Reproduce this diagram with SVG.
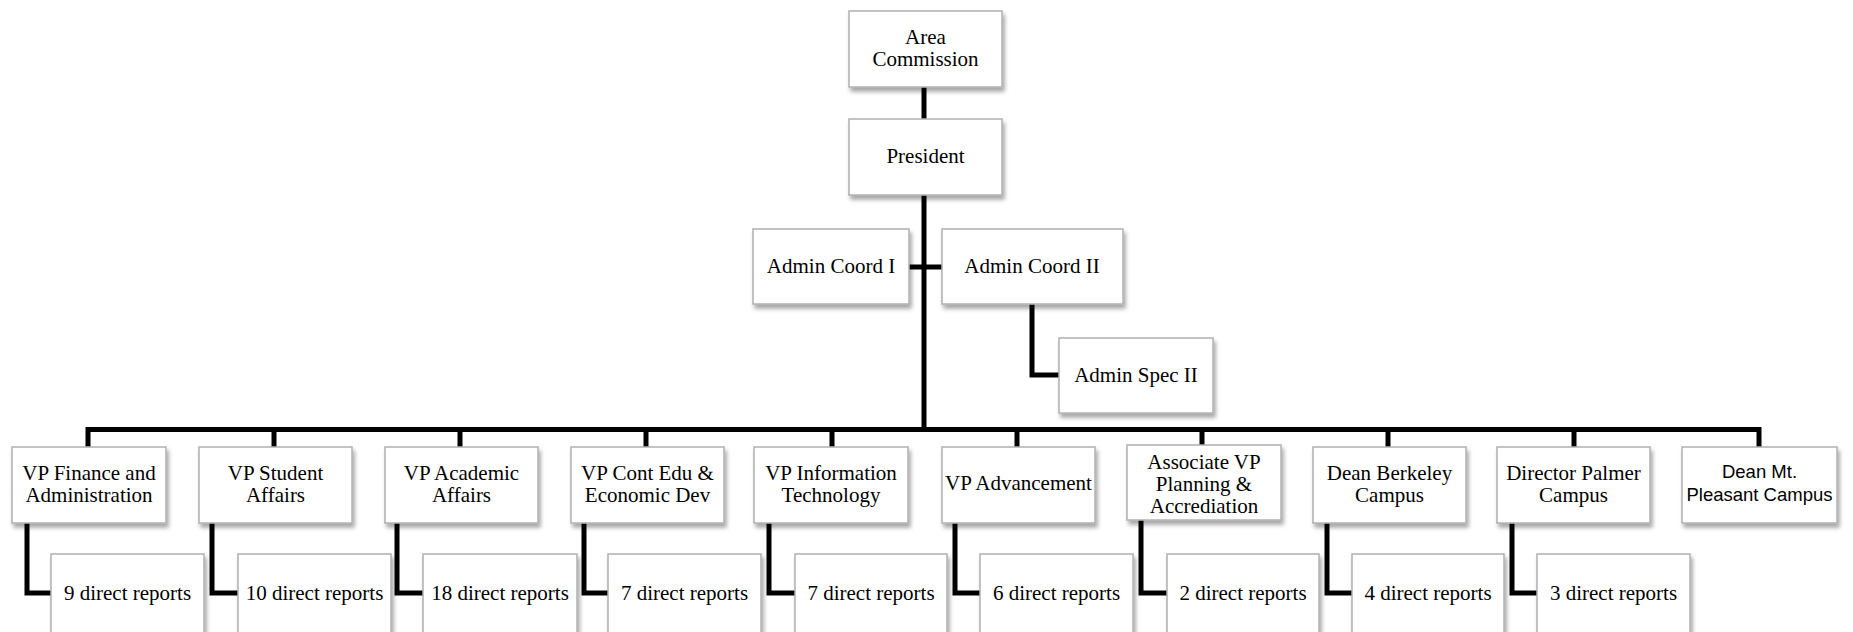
<svg xmlns="http://www.w3.org/2000/svg" width="1853" height="632" viewBox="0 0 1853 632">
<defs>
<filter id="sh" x="-10%" y="-10%" width="130%" height="140%">
<feDropShadow dx="2" dy="4" stdDeviation="2.2" flood-color="#000" flood-opacity="0.35"/>
</filter>
<style>
.b{fill:#fff;stroke:#b0b0b0;stroke-width:1.5;filter:url(#sh)}
.t{font-family:"Liberation Serif","Times New Roman",serif;font-size:21px;fill:#000;text-anchor:middle}
.s{font-family:"Liberation Sans",Arial,sans-serif;font-size:18.5px;fill:#000;text-anchor:middle}
.c{fill:none;stroke:#000;stroke-width:5;stroke-linejoin:miter}
</style>
</defs>
<rect width="1853" height="632" fill="#fff"/>
<g id="connectors">
<path class="c" d="M924 87V119"/>
<path class="c" d="M924 195V430"/>
<path class="c" d="M909 267H942"/>
<path class="c" d="M1032 304V375H1059"/>
<path class="c" d="M88 447V429.5H1759V447"/>
<path class="c" d="M274 429.5V447M460 429.5V447M646 429.5V447M832 429.5V447M1017 429.5V447M1202 429.5V445M1388 429.5V447M1574 429.5V447"/>
<path class="c" d="M27 523V593H51"/>
<path class="c" d="M212 523V593H238"/>
<path class="c" d="M397 523V593H423"/>
<path class="c" d="M584 523V593H608"/>
<path class="c" d="M769 523V593H795"/>
<path class="c" d="M955 523V593H980"/>
<path class="c" d="M1141 520V593H1167"/>
<path class="c" d="M1327 523V593H1352"/>
<path class="c" d="M1512 523V593H1537"/>
</g>
<g id="area-commission"><rect class="b" x="849" y="11" width="153" height="76"/><text class="t" x="925.5" y="44">Area</text><text class="t" x="925.5" y="66">Commission</text></g>
<g id="president"><rect class="b" x="849" y="119" width="153" height="76"/><text class="t" x="925.5" y="163">President</text></g>
<g id="admin-coord-1"><rect class="b" x="753" y="229" width="156" height="75"/><text class="t" x="831" y="273">Admin Coord I</text></g>
<g id="admin-coord-2"><rect class="b" x="942" y="229" width="181" height="75"/><text class="t" x="1032" y="273">Admin Coord II</text></g>
<g id="admin-spec-2"><rect class="b" x="1059" y="338" width="154" height="75"/><text class="t" x="1136" y="382">Admin Spec II</text></g>
<g id="vp-finance"><rect class="b" x="12" y="447" width="154" height="76"/><text class="t" x="89" y="480">VP Finance and</text><text class="t" x="89" y="502">Administration</text></g>
<g id="vp-student"><rect class="b" x="199" y="447" width="153" height="76"/><text class="t" x="275.5" y="480">VP Student</text><text class="t" x="275.5" y="502">Affairs</text></g>
<g id="vp-academic"><rect class="b" x="385" y="447" width="153" height="76"/><text class="t" x="461.5" y="480">VP Academic</text><text class="t" x="461.5" y="502">Affairs</text></g>
<g id="vp-cont-edu"><rect class="b" x="571" y="447" width="153" height="76"/><text class="t" x="647.5" y="480">VP Cont Edu &amp;</text><text class="t" x="647.5" y="502">Economic Dev</text></g>
<g id="vp-it"><rect class="b" x="754" y="447" width="154" height="76"/><text class="t" x="831" y="480">VP Information</text><text class="t" x="831" y="502">Technology</text></g>
<g id="vp-advancement"><rect class="b" x="942" y="447" width="153" height="76"/><text class="t" x="1018.5" y="490">VP Advancement</text></g>
<g id="assoc-vp"><rect class="b" x="1127" y="445" width="154" height="75"/><text class="t" x="1204" y="469">Associate VP</text><text class="t" x="1204" y="491">Planning &amp;</text><text class="t" x="1204" y="513">Accrediation</text></g>
<g id="dean-berkeley"><rect class="b" x="1313" y="447" width="153" height="76"/><text class="t" x="1389.5" y="480">Dean Berkeley</text><text class="t" x="1389.5" y="502">Campus</text></g>
<g id="director-palmer"><rect class="b" x="1497" y="447" width="153" height="76"/><text class="t" x="1573.5" y="480">Director Palmer</text><text class="t" x="1573.5" y="502">Campus</text></g>
<g id="dean-mt-pleasant"><rect class="b" x="1682" y="447" width="155" height="76"/><text class="s" x="1759.5" y="478">Dean Mt.</text><text class="s" x="1759.5" y="501">Pleasant Campus</text></g>
<g id="dr-finance"><rect class="b" x="51" y="554" width="153" height="84"/><text class="t" x="127.5" y="600">9 direct reports</text></g>
<g id="dr-student"><rect class="b" x="238" y="554" width="153" height="84"/><text class="t" x="314.5" y="600">10 direct reports</text></g>
<g id="dr-academic"><rect class="b" x="423" y="554" width="154" height="84"/><text class="t" x="500" y="600">18 direct reports</text></g>
<g id="dr-cont-edu"><rect class="b" x="608" y="554" width="153" height="84"/><text class="t" x="684.5" y="600">7 direct reports</text></g>
<g id="dr-it"><rect class="b" x="795" y="554" width="152" height="84"/><text class="t" x="871" y="600">7 direct reports</text></g>
<g id="dr-advancement"><rect class="b" x="980" y="554" width="153" height="84"/><text class="t" x="1056.5" y="600">6 direct reports</text></g>
<g id="dr-assoc-vp"><rect class="b" x="1167" y="554" width="152" height="84"/><text class="t" x="1243" y="600">2 direct reports</text></g>
<g id="dr-berkeley"><rect class="b" x="1352" y="554" width="152" height="84"/><text class="t" x="1428" y="600">4 direct reports</text></g>
<g id="dr-palmer"><rect class="b" x="1537" y="554" width="153" height="84"/><text class="t" x="1613.5" y="600">3 direct reports</text></g>
</svg>
